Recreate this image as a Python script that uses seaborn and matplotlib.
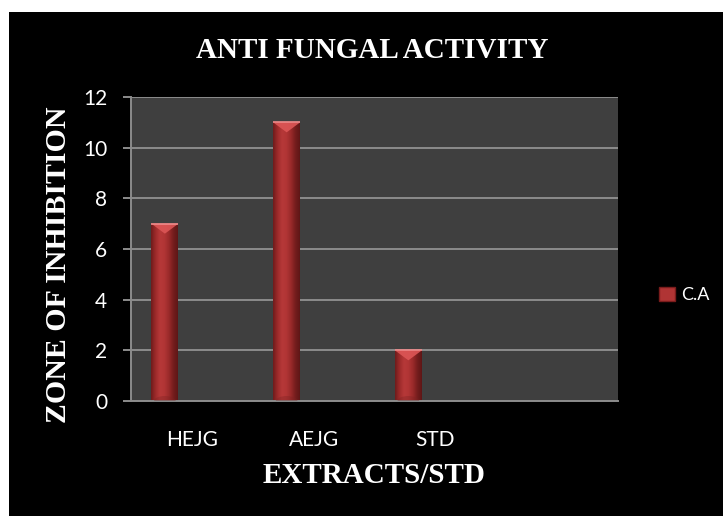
import numpy as np
import pandas as pd
import matplotlib
matplotlib.use("Agg")
import matplotlib.pyplot as plt
from matplotlib.colors import LinearSegmentedColormap
from matplotlib.patches import Polygon, Rectangle, Ellipse, Patch
import seaborn as sns

# Zone of inhibition (mm) for Candida albicans
categories = ["HEJG", "AEJG", "STD"]
ca_values = [7, 11, 2]
series_name = "C.A"
title = "ANTI FUNGAL ACTIVITY"
x_title = "EXTRACTS/STD"
y_title = "ZONE OF INHIBITION"
y_ticks = [0, 2, 4, 6, 8, 10, 12]

df = pd.DataFrame({"extract": categories, "zone": ca_values, "organism": series_name})

sns.set_theme(style="dark")
plt.rcParams["font.family"] = ["Lato", "DejaVu Sans"]

fig = plt.figure(figsize=(7.23, 5.16), dpi=100)
fig.patch.set_facecolor("white")
# black chart area, leaving a thin white margin at top and left
fig.patches.append(Rectangle((9 / 723, 0), 1 - 9 / 723, 1 - 12 / 516,
                             transform=fig.transFigure, facecolor="black",
                             edgecolor="none", zorder=-10))

ax = fig.add_axes([131 / 723, 1 - 401 / 516, 487 / 723, 304 / 516])
ax.set_facecolor("#3f3f3f")

# three series slots per category; only C.A carries data
slot_order = categories + [" "]
hue_slots = [series_name, "  ", "   "]
sns.barplot(data=df, x="extract", y="zone", hue="organism",
            order=slot_order, hue_order=hue_slots, dodge=True,
            palette=["#a83030", "#a83030", "#a83030"],
            width=0.665, legend=False, ax=ax, zorder=2, errorbar=None)

ax.set_ylim(0, 12)
ax.set_xlim(-0.5, 3.5)
ax.set_yticks(y_ticks)
ax.set_xticks(range(len(slot_order)))
ax.set_xticklabels(slot_order)

# cylinder shading for each bar
bar_cmap = LinearSegmentedColormap.from_list(
    "bar", ["#6e1b1b", "#9c2a2a", "#b63838", "#b13535", "#9a2a2a", "#741d1d", "#5e1616"])
grad = np.linspace(0, 1, 256).reshape(1, -1)
px_per_unit = ax.bbox.height / 12
for p in list(ax.patches):
    h = p.get_height()
    if not np.isfinite(h) or h <= 0:
        continue
    x0, w = p.get_x(), p.get_width()
    p.set_facecolor("none")
    p.set_edgecolor("none")
    im = ax.imshow(grad, cmap=bar_cmap, extent=[x0, x0 + w, 0, h],
                   aspect="auto", zorder=2, interpolation="bicubic")
    im.set_clip_path(p)
    d = 10 / px_per_unit
    ax.add_patch(Polygon([(x0, h), (x0 + w, h), (x0 + w / 2, h - d)],
                         closed=True, facecolor="#dc5656", edgecolor="none",
                         alpha=0.9, zorder=3))
    ax.plot([x0, x0 + w], [h, h], color="#f08a8a", lw=1.2, zorder=4,
            solid_capstyle="butt")
    base = Ellipse((x0 + w / 2, 0), w * 0.8, 2 * 5 / px_per_unit,
                   facecolor="#7c2222", edgecolor="none", alpha=0.35, zorder=3)
    ax.add_patch(base)
    base.set_clip_path(p)

ax.set_xlim(-0.5, 3.5)
ax.set_ylim(0, 12)

grid_col = "#8c8c8c"
ax.yaxis.grid(True, color=grid_col, lw=1.4)
ax.xaxis.grid(False)
ax.set_axisbelow(True)
for side in ["top", "right"]:
    ax.spines[side].set_visible(False)
for side in ["left", "bottom"]:
    ax.spines[side].set_visible(True)
    ax.spines[side].set_color(grid_col)
    ax.spines[side].set_linewidth(1.4)

ax.tick_params(axis="y", which="major", left=True, length=6, width=1.4,
               color=grid_col, pad=11, labelcolor="white", labelsize=15)
ax.tick_params(axis="x", which="major", bottom=False, pad=15,
               labelcolor="white", labelsize=15)
ax.set_xlabel("")
ax.set_ylabel("")

serif = ["Liberation Serif", "DejaVu Serif"]
fig.text(372.5 / 723, 1 - 58 / 516, title, color="white", fontsize=21,
         fontweight="bold", family=serif, ha="center", va="baseline")
fig.text(374 / 723, 1 - 483 / 516, x_title, color="white", fontsize=21,
         fontweight="bold", family=serif, ha="center", va="baseline")
fig.text(58 / 723, 1 - 265 / 516, y_title, color="white", fontsize=21.5,
         fontweight="bold", family=serif, ha="center", va="center",
         rotation=90)

handle = Patch(facecolor="#b03434", edgecolor="#7a1c1c", label=series_name)
fig.legend(handles=[handle], loc="center left",
           bbox_to_anchor=(652 / 723, 1 - 295 / 516), frameon=False,
           fontsize=13, labelcolor="white", handlelength=0.85,
           handleheight=0.85, handletextpad=0.35, borderaxespad=0)

fig.savefig("out.png", dpi=100, facecolor=fig.get_facecolor())
